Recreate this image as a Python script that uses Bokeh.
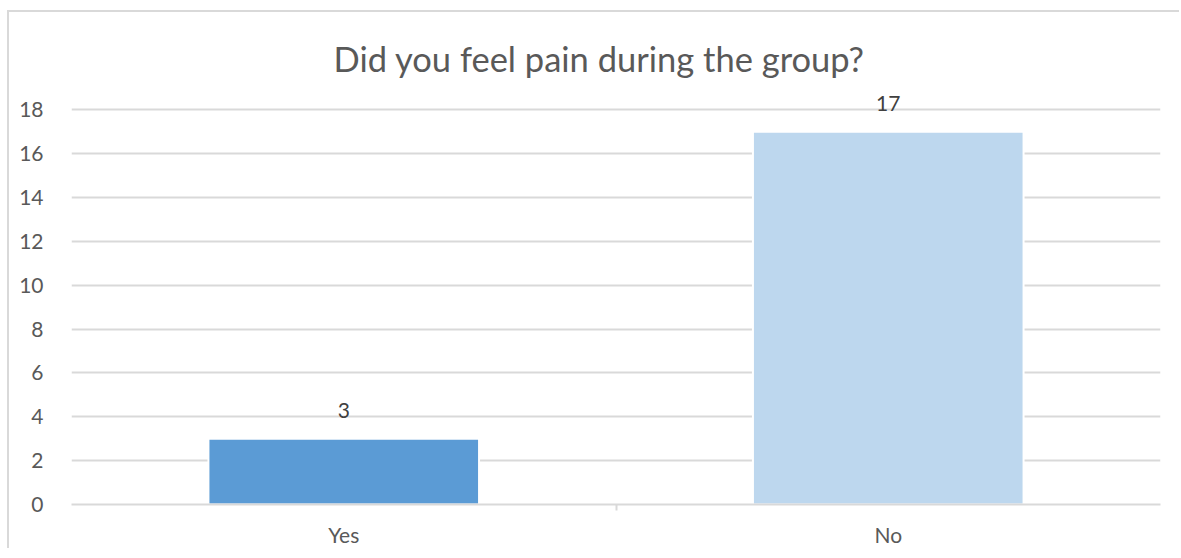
from bokeh.plotting import figure
from bokeh.models import (ColumnDataSource, FactorRange, Range1d, CategoricalAxis,
                          LinearAxis, FixedTicker)
from bokeh.core.properties import value
from bokeh.embed import file_html
from bokeh.resources import INLINE

categories = ["Yes", "No"]
counts = [3, 17]
bar_colors = ["#5B9BD5", "#BDD7EE"]
y_ticks = [0, 2, 4, 6, 8, 10, 12, 14, 16, 18]
boundary_factors = ["b0", "b1", "b2"]
title_text = "Did you feel pain during the group?"

FONT = "Lato"
TXT = "#595959"
GRID = "#d9d9d9"

src = ColumnDataSource(dict(cat=categories, val=counts, color=bar_colors,
                            lbl=[str(v) for v in counts]))

p = figure(width=1172, height=544, x_range=FactorRange(*categories, range_padding=0),
           y_range=Range1d(0, 19.2), output_backend="svg", toolbar_location=None,
           x_axis_location=None, y_axis_location=None,
           min_border_left=62, min_border_right=21, min_border_top=71, min_border_bottom=52)
p.margin = (10, 0, 0, 7)
p.styles = {
    "border-left": "2px solid #d9d9d9",
    "border-top": "2px solid #d9d9d9",
    "clip-path": "polygon(0 0, 100% 0, 100% 2px, calc(100% - 6px) 2px, "
                 "calc(100% - 6px) calc(100% - 6px), 0 calc(100% - 6px))",
}
p.outline_line_color = None
p.background_fill_color = "white"
p.border_fill_color = "white"

p.title.text = title_text
p.title.text_font = FONT
p.title.text_font_size = "34.5px"
p.title.text_font_style = "normal"
p.title.text_color = TXT
p.title.align = "left"
p.title.offset = 262
p.title.standoff = 10

# boundary range: factor centres fall on category edges
p.extra_x_ranges = {"edges": FactorRange(*boundary_factors, range_padding=-1,
                                         range_padding_units="absolute")}

# y axis
yax = LinearAxis(ticker=FixedTicker(ticks=y_ticks))
yax.axis_line_color = None
yax.major_tick_line_color = None
yax.minor_tick_line_color = None
yax.major_label_text_font = FONT
yax.major_label_text_font_size = "21px"
yax.major_label_text_color = TXT
yax.major_label_standoff = 22
p.add_layout(yax, "left")

# x axis line with boundary ticks
tax = CategoricalAxis(x_range_name="edges")
tax.axis_line_color = GRID
tax.axis_line_width = 2
tax.major_tick_line_color = GRID
tax.major_tick_line_width = 2
tax.major_tick_in = 0
tax.major_tick_out = 6
tax.major_label_text_font_size = "0px"
tax.major_label_text_color = None
tax.major_label_standoff = 0
p.add_layout(tax, "below")

# category labels
cax = CategoricalAxis()
cax.axis_line_color = None
cax.major_tick_line_color = None
cax.major_label_text_font = FONT
cax.major_label_text_font_size = "21px"
cax.major_label_text_color = TXT
cax.major_label_standoff = 5
p.add_layout(cax, "below")

p.ygrid.ticker = FixedTicker(ticks=y_ticks)
p.ygrid.grid_line_color = GRID
p.ygrid.grid_line_width = 2
p.xgrid.grid_line_color = None

p.vbar(x="cat", top="val", width=0.497, source=src, fill_color="color",
       line_color="white", line_width=2)

p.text(x="cat", y="val", text="lbl", source=src, text_align="center",
       text_baseline="bottom", y_offset=-21, text_font=value(FONT),
       text_font_size="21px", text_color="#404040")

open("out.html", "w").write(file_html(p, INLINE))
